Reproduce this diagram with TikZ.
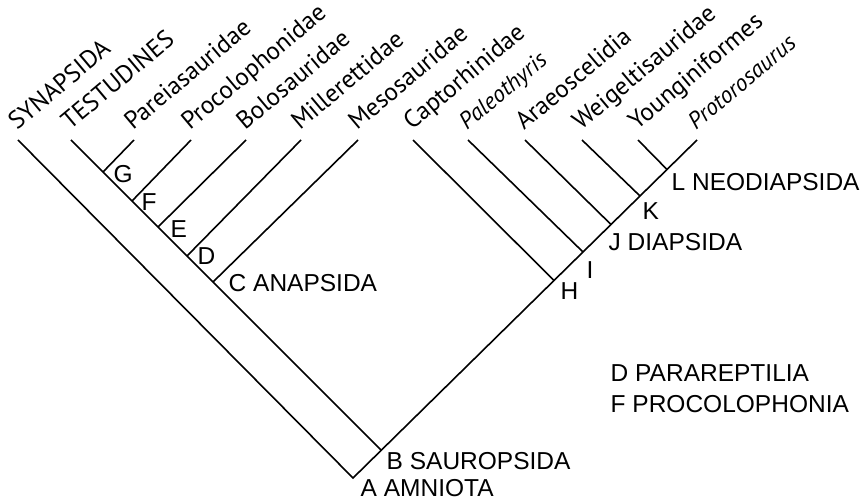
\documentclass[tikz,border=0pt]{standalone}
\usepackage{fontspec}
\setmainfont{Liberation Sans}
\newfontfamily\leaffamily{PT Sans}
\begin{document}
\begin{tikzpicture}[x=1pt,y=1pt,
  branch/.style={line width=1.6pt},
  leaf/.style={font=\leaffamily\fontsize{25}{30}\selectfont, rotate=40, anchor=base west, inner sep=0pt},
  leafit/.style={leaf, font=\leaffamily\itshape\fontsize{23.5}{28}\selectfont},
  clade/.style={font=\fontsize{24.5}{29}\selectfont, anchor=west, inner sep=0pt}]
\useasboundingbox (0,0) rectangle (866,498);
% internal nodes
\coordinate (A) at (353,20);
\coordinate (B) at (381.25,47.75);
\coordinate (C) at (213,216);
\coordinate (D) at (187,242);
\coordinate (E) at (158,271);
\coordinate (F) at (132,297);
\coordinate (G) at (103,326);
\coordinate (H) at (554,217.5);
\coordinate (I) at (583,246);
\coordinate (J) at (611,273.5);
\coordinate (K) at (640,302);
\coordinate (L) at (667,328.5);
% leaf tips
\coordinate (tSyn) at (18,358);
\coordinate (tTes) at (71,358);
\coordinate (tPar) at (134,358);
\coordinate (tPro) at (191,358);
\coordinate (tBol) at (246,358);
\coordinate (tMil) at (301,358);
\coordinate (tMes) at (358,358);
\coordinate (tCap) at (413,358);
\coordinate (tPal) at (468,358);
\coordinate (tAra) at (525,358);
\coordinate (tWei) at (582,358);
\coordinate (tYou) at (638,358);
\coordinate (tPrt) at (697,358);
% branches
\draw[branch] (tSyn) -- (A) -- (B) -- (H) -- (I) -- (J) -- (K) -- (L) -- (tPrt);
\draw[branch] (tTes) -- (G) -- (F) -- (E) -- (D) -- (C) -- (B);
\draw[branch] (G) -- (tPar);
\draw[branch] (F) -- (tPro);
\draw[branch] (E) -- (tBol);
\draw[branch] (D) -- (tMil);
\draw[branch] (C) -- (tMes);
\draw[branch] (H) -- (tCap);
\draw[branch] (I) -- (tPal);
\draw[branch] (J) -- (tAra);
\draw[branch] (K) -- (tWei);
\draw[branch] (L) -- (tYou);
% leaf labels
\node[leaf] (nSyn) at ([shift={(-1,9)}]tSyn) {SYNAPSIDA};
\node[leaf] (nTes) at ([shift={(-1,9)}]tTes) {TESTUDINES};
\node[leaf] (nPar) at ([shift={(-1,9)}]tPar) {Pareiasauridae};
\node[leaf] (nPro) at ([shift={(-1,9)}]tPro) {Procolophonidae};
\node[leaf] (nBol) at ([shift={(-1,9)}]tBol) {Bolosauridae};
\node[leaf] (nMil) at ([shift={(-1,9)}]tMil) {Millerettidae};
\node[leaf] (nMes) at ([shift={(-1,9)}]tMes) {Mesosauridae};
\node[leaf] (nCap) at ([shift={(-1,9)}]tCap) {Captorhinidae};
\node[leafit] (nPal) at ([shift={(-1,9)}]tPal) {Paleothyris};
\node[leaf] (nAra) at ([shift={(-1,9)}]tAra) {Araeoscelidia};
\node[leaf] (nWei) at ([shift={(-1,9)}]tWei) {Weigeltisauridae};
\node[leaf] (nYou) at ([shift={(-1,9)}]tYou) {Younginiformes};
\node[leafit] (nPrt) at ([shift={(-1,9)}]tPrt) {Protorosaurus};
% clade labels
\node[clade] (lA) at (360.5,10) {A AMNIOTA};
\node[clade] (lB) at (386.5,37) {B SAUROPSIDA};
\node[clade] (lC) at (228.5,215) {C ANAPSIDA};
\node[clade] (lD) at (197.5,242) {D};
\node[clade] (lE) at (170.5,269) {E};
\node[clade] (lF) at (141.5,296) {F};
\node[clade] (lG) at (113.5,324) {G};
\node[clade] (lH) at (560.5,207) {H};
\node[clade] (lI) at (586.5,228) {I};
\node[clade] (lJ) at (608.5,256) {J DIAPSIDA};
\node[clade] (lK) at (642.5,287) {K};
\node[clade] (lL) at (671.5,316) {L NEODIAPSIDA};
\node[clade] (key1) at (610.5,125) {D PARAREPTILIA};
\node[clade] (key2) at (610.5,94) {F PROCOLOPHONIA};
\end{tikzpicture}
\end{document}
